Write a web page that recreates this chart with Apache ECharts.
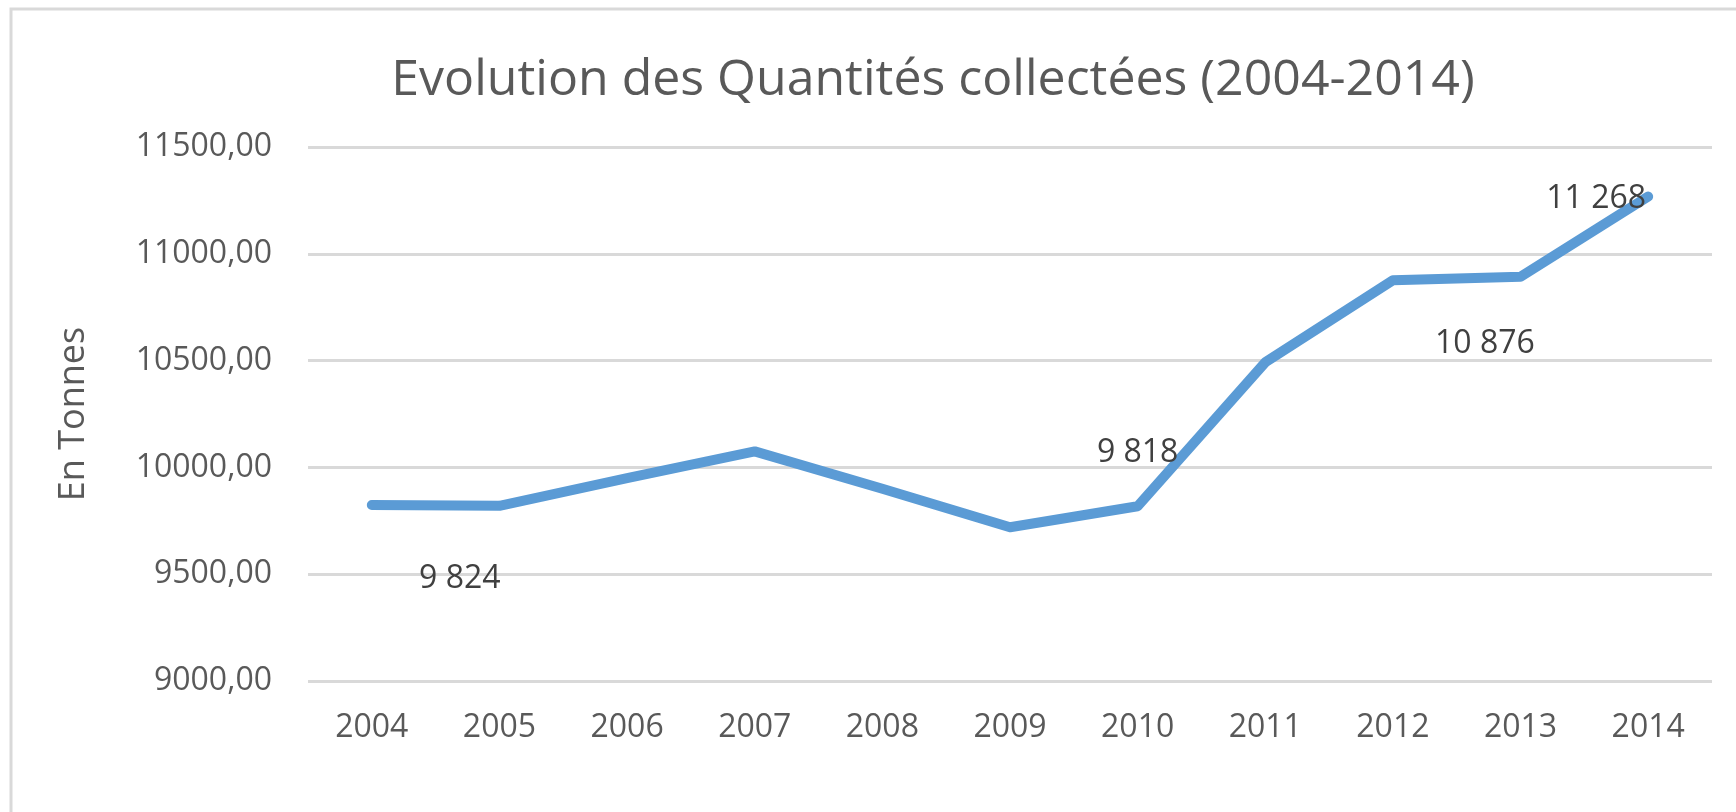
<!DOCTYPE html>
<html>
<head>
<meta charset="utf-8">
<script src="https://cdn.jsdelivr.net/npm/echarts@6/dist/echarts.min.js"></script>
<style>
html,body{margin:0;padding:0;background:#fff;}
#chart{width:1736px;height:812px;}
</style>
</head>
<body>
<div id="chart"></div>
<script>
const titleText = 'Evolution des Quantités collectées (2004-2014)';
const yAxisName = 'En Tonnes';
const years = ['2004','2005','2006','2007','2008','2009','2010','2011','2012','2013','2014'];
const quantities = [9824, 9820, 9950, 10075, 9900, 9720, 9818, 10492, 10876, 10893, 11268];
const yTicks = [9000, 9500, 10000, 10500, 11000, 11500];
const labelledYears = ['2004', '2010', '2012', '2014'];

// style: label offsets (px) for the labelled points
const labelOffsets = {'2004': [88, 74], '2010': [0, -53], '2012': [92, 64], '2014': [-52, 2]};

const FONT = '"Open Sans", sans-serif';
function fmtAxis(v){ return v.toFixed(2).replace('.', ','); }
function fmtLabel(v){ return String(Math.round(v)).replace(/\B(?=(\d{3})+(?!\d))/g, ' '); }

const seriesData = quantities.map((v, i) => {
  const y = years[i];
  if (labelledYears.includes(y)) {
    return { value: v, label: { show: true, position: 'inside', offset: labelOffsets[y] } };
  }
  return { value: v };
});

const chart = echarts.init(document.getElementById('chart'), null, {renderer: 'canvas'});
chart.setOption({
  animation: false,
  backgroundColor: '#ffffff',
  title: {
    text: titleText,
    left: 928,
    top: 51,
    textAlign: 'center',
    textStyle: { fontFamily: FONT, fontSize: 50, fontWeight: 'normal', color: '#595959' }
  },
  graphic: [{
    type: 'rect',
    shape: { x: 11, y: 9, width: 1800, height: 900 },
    style: { fill: 'none', stroke: '#d9d9d9', lineWidth: 3 },
    silent: true, z: -1
  }],
  grid: { left: 308, right: 24, top: 147, bottom: 131 },
  xAxis: {
    type: 'category',
    data: years,
    boundaryGap: true,
    axisLine: { show: false },
    axisTick: { show: false },
    axisLabel: { fontFamily: FONT, fontSize: 32, color: '#595959', margin: 31 }
  },
  yAxis: {
    type: 'value',
    min: yTicks[0],
    max: yTicks[yTicks.length - 1],
    interval: 500,
    name: yAxisName,
    nameLocation: 'middle',
    nameRotate: 90,
    nameGap: 216,
    nameTextStyle: { fontFamily: FONT, fontSize: 36, color: '#595959' },
    axisLine: { show: false },
    axisTick: { show: false },
    axisLabel: { fontFamily: FONT, fontSize: 32, color: '#595959', margin: 36, formatter: fmtAxis },
    splitLine: { lineStyle: { color: '#d9d9d9', width: 3 } }
  },
  series: [{
    type: 'line',
    data: seriesData,
    symbol: 'circle',
    symbolSize: 0,
    showSymbol: true,
    lineStyle: { color: '#5B9BD5', width: 10, cap: 'round', join: 'round' },
    itemStyle: { color: '#5B9BD5' },
    label: {
      show: false,
      fontFamily: FONT, fontSize: 32, color: '#404040',
      formatter: p => fmtLabel(p.value)
    }
  }]
});
</script>
</body>
</html>
